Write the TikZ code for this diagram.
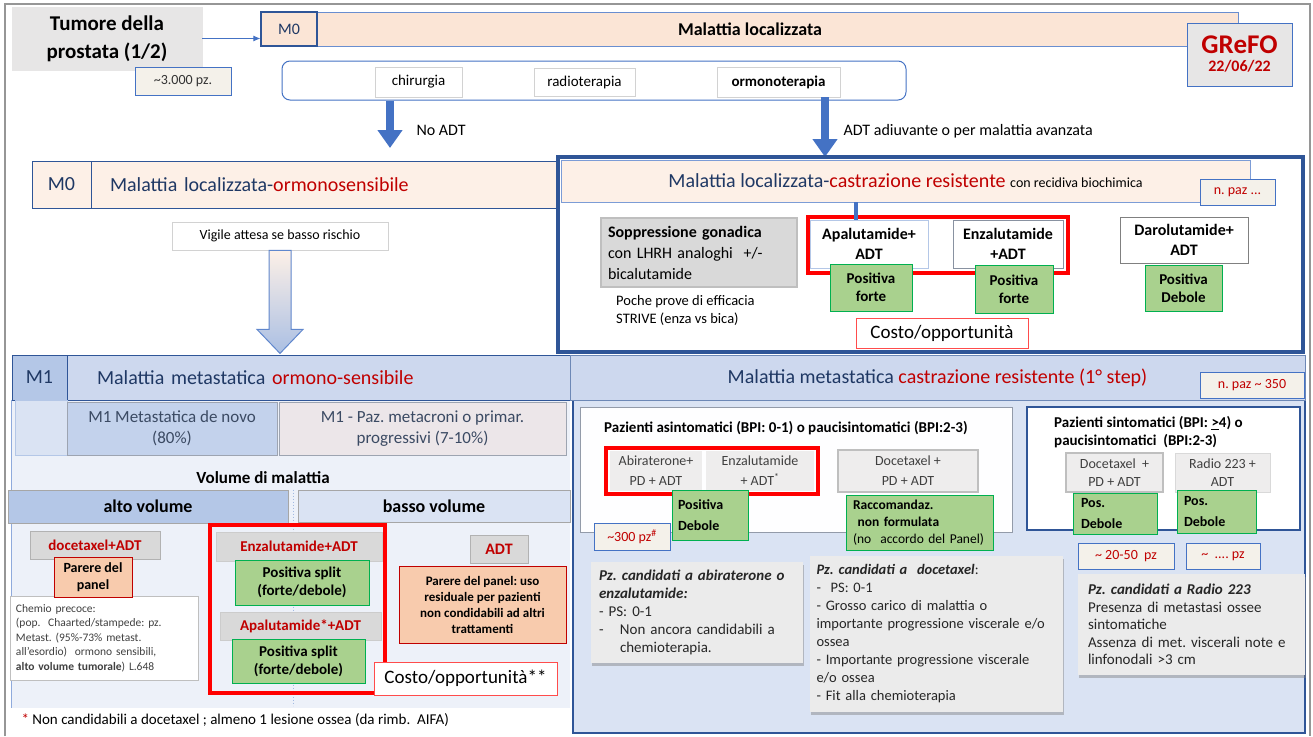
\documentclass[tikz,border=0pt]{standalone}
\usepackage{fontspec}
\setmainfont{Carlito}
\usepackage{tikz}
\usetikzlibrary{arrows.meta,positioning,shadows,calc}
\frenchspacing
\definecolor{gfblue}{RGB}{68,114,196}
\definecolor{gfnavy}{RGB}{47,85,151}
\definecolor{gfink}{RGB}{31,56,100}
\definecolor{gfred}{RGB}{192,0,0}
\definecolor{gfbright}{RGB}{255,0,0}
\definecolor{gfpeach}{RGB}{251,229,214}
\definecolor{gfpeachlt}{RGB}{253,240,231}
\definecolor{gfgray}{RGB}{231,230,230}
\definecolor{gfgraydk}{RGB}{217,217,217}
\definecolor{gfline}{RGB}{191,191,191}
\definecolor{gfgreen}{RGB}{169,209,142}
\definecolor{gfgreenln}{RGB}{0,176,80}
\definecolor{gforange}{RGB}{248,203,173}
\definecolor{gfbeige}{RGB}{244,241,234}
\definecolor{gfblu1}{RGB}{180,199,231}
\definecolor{gfblu2}{RGB}{205,216,238}
\definecolor{gfblu3}{RGB}{218,227,243}
\definecolor{gfblu4}{RGB}{237,241,249}
\definecolor{gfmauve}{RGB}{236,230,233}
\definecolor{gfslate}{RGB}{59,74,99}
\definecolor{gfframe}{RGB}{150,150,150}
\definecolor{gfarrow}{RGB}{170,191,227}
\definecolor{gfnote}{RGB}{235,235,235}
\newcommand{\fz}[2]{\fontsize{#1}{#2}\selectfont}
\tikzset{
  gbox/.style={
    draw=gfline, line width=0.8pt, align=center, inner sep=1pt,
    font=\fz{15}{18}
  },
  peach/.style={gbox, draw=gfnavy, fill=gfpeachlt},
  wbox/.style={gbox, draw=gfline!70, fill=white},
  gry/.style={gbox, draw=gray!60, line width=1pt, fill=gfgraydk, text=gfred, font=\bfseries\fz{15}{18}},
  lgry/.style={gbox, fill=gfgray!70, text=black!75, font=\fz{14}{20}},
  tag/.style={gbox, draw=gfblue, line width=1pt, fill=gfbeige, font=\fz{14}{16}, text=gfred},
  grn/.style={gbox, draw=gfgreenln, fill=gfgreen, font=\bfseries\fz{15}{18}},
  org/.style={gbox, draw=gfred, fill=gforange, font=\bfseries\fz{14}{16.5}},
  redfr/.style={draw=gfbright, line width=3.5pt, inner sep=0pt},
  note/.style={
    draw=none, fill=gfnote, align=left, inner sep=1pt, font=\fz{15}{18}, text=black!85,
    drop shadow={shadow xshift=1pt, shadow yshift=-3pt, opacity=0.45}
  },
  blkarr/.style={-{Triangle[length=18pt,width=24pt]}, draw=gfblue, line width=8pt},
  thinarr/.style={-{Latex[length=7pt,width=6pt]}, draw=gfblue, line width=0.8pt}
}
\begin{document}
\begin{tikzpicture}[x=1pt, y=-1pt]
  \useasboundingbox (0,0) rectangle (1313,736);
  \draw[gfframe, line width=1.5pt] (5,736) -- (5,4) -- (1310,4) -- (1310,736);

  % testata
  \node[gbox, draw=gfgray, fill=gfgray, font=\bfseries\fz{21}{28}, minimum width=190pt, minimum height=63pt] (title) at (107,38.5) {Tumore della\\prostata (1/2)};
  \node[tag, text=black!80, minimum width=96pt, minimum height=28pt] (npz) at (183,81) {\textasciitilde3.000 pz.};
  \node[gbox, draw=gfblue!80, fill=gfpeach, minimum width=921pt, minimum height=34pt] (m0bar) at (777.5,29) {};
  \node[gbox, draw=gfnavy, line width=1.2pt, fill=gfpeach, text=gfink, font=\fz{16}{18}, minimum width=56pt, minimum height=34pt] (m0a) at (289,29) {M0};
  \node[font=\bfseries\fz{18}{20}] (m0txt) at (750,29) {Malattia localizzata};
  \draw[thinarr] (title.east) -- (m0a.west |- title.east);
  \node[gbox, draw=gfblue, line width=1pt, fill=gfgray, text=gfred, minimum width=105pt, minimum height=63pt] (grefo) at (1239.5,54.5) {{\bfseries\fz{27}{24}GReFO}\\{\bfseries\fz{16}{18}22/06/22}};

  % trattamenti
  \node[gbox, draw=gfblue, line width=1pt, rounded corners=8pt, fill=white, minimum width=624pt, minimum height=39pt] (tratt) at (594,80.5) {};
  \node[wbox, minimum width=87pt, minimum height=30pt] (chir) at (418.5,82) {chirurgia};
  \node[wbox, minimum width=101pt, minimum height=28pt] (radio) at (584.5,82) {radioterapia};
  \node[wbox, font=\bfseries\fz{15}{18}, minimum width=123pt, minimum height=30pt] (ormo) at (778.5,82) {ormonoterapia};
  \coordinate (noadt) at (390,148);
  \coordinate (adtad) at (825,157);
  \draw[blkarr] (tratt.south -| noadt) -- (noadt);
  \draw[blkarr] (ormo.south -| adtad) -- (adtad);
  \node[anchor=west, font=\fz{16}{18}] (lnoadt) at (413,130) {No ADT};
  \node[anchor=west, font=\fz{16}{18}] (ladt) at (840,131) {ADT adiuvante o per malattia avanzata};

  % M0 ormonosensibile
  \node[peach, minimum width=467pt, minimum height=47pt, text width=429pt, align=left, font=\fz{20}{22}] (m0bar2) at (324.5,184.5) {\textcolor{gfink}{Malattia localizzata-}\textcolor{gfred}{ormonosensibile}};
  \node[peach, text=gfink, font=\fz{20}{22}, minimum width=59pt, minimum height=47pt] (m0b) at (61.5,184.5) {M0};
  \node[wbox, font=\fz{14}{16}, minimum width=216pt, minimum height=28pt] (vig) at (280,236) {Vigile attesa se basso rischio};
  \shade[top color=gfpeachlt, bottom color=gfarrow, draw=gfblue!85, line width=1pt]
    (vig.south) ++(-11,0) -- ++(0,79) -- ++(-12,0) -- ++(23,24) -- ++(23,-24) -- ++(-12,0) -- ++(0,-79) -- cycle;

  % M0 castrazione resistente
  \node[peach, draw=gfblue!70, minimum width=689pt, minimum height=42pt, font=\fz{20}{22}] (crhdr) at (905.5,181) {\textcolor{gfink}{Malattia localizzata-}\textcolor{gfred}{castrazione resistente} {\fz{14}{16}con recidiva biochimica}};
  \node[draw=gfnavy, line width=3.5pt, minimum width=745pt, minimum height=195pt, inner sep=0pt] (crfr) at (930.5,254.5) {};
  \node[tag, minimum width=75pt, minimum height=26pt] (npz1) at (1237.5,192) {n. paz ...};
  \node[gbox, draw=gfline, line width=1.2pt, fill=gfgraydk, text width=182pt, align=left, font=\fz{16}{21}, minimum width=196pt, minimum height=69pt] (sopp) at (699,252.5) {\textbf{Soppressione gonadica}\\con LHRH analoghi~ +/-\\bicalutamide};
  \node[anchor=north west, align=left, inner sep=0pt, font=\fz{14.5}{18}] (poche) at (616,295) {Poche prove di efficacia\\STRIVE (enza vs bica)};
  \node[redfr, minimum width=260pt, minimum height=56pt] (rfa) at (938,245) {};
  \node[gbox, draw=gfblu1, fill=white, font=\bfseries\fz{16}{20}, minimum width=118pt, minimum height=48pt] (apa) at (869,244) {Apalutamide+\\ADT};
  \node[gbox, draw=gfslate!60, line width=1pt, fill=white, font=\bfseries\fz{16}{20}, minimum width=110pt, minimum height=48pt] (enz) at (1008,244) {Enzalutamide\\+ADT};
  \coordinate (apatop) at ($(apa.north west)+(46,0)$);
  \draw[gfblue, line width=4pt] (apatop |- crhdr.south) -- (apatop);
  \node[grn, minimum width=82pt, minimum height=47pt] (pf1) at (871,287.5) {Positiva\\forte};
  \node[grn, minimum width=78pt, minimum height=48pt] (pf2) at (1014,289) {Positiva\\forte};
  \node[gbox, draw=gray, line width=1pt, fill=white, font=\bfseries\fz{16}{20}, minimum width=128pt, minimum height=46pt] (daro) at (1184,240) {Darolutamide+\\ADT};
  \node[grn, minimum width=77pt, minimum height=46pt] (pd3) at (1183.5,288) {Positiva\\Debole};
  \node[gbox, draw=gfbright!70, fill=white, font=\fz{19}{22}, minimum width=172pt, minimum height=30pt] (costo1) at (942,333) {Costo/opportunità};

  % M1 pannelli
  \node[fill=gfblu4, minimum width=558pt, minimum height=308pt, inner sep=0pt] (lpan) at (291,554) {};
  \draw[gfblue!60, line width=1pt] (lpan.north west) -- (lpan.south west);
  \node[draw=gfnavy, line width=1.2pt, fill=gfblu3, minimum width=732pt, minimum height=333pt, inner sep=0pt] (rpan) at (939,566.5) {};
  \node[gbox, draw=gfnavy, fill=gfblu2, minimum width=503pt, minimum height=45pt, text width=443pt, align=left, font=\fz{20}{22}] (m1hdr) at (318.5,377.5) {\textcolor{gfink}{Malattia metastatica }\textcolor{gfred}{ormono-sensibile}};
  \node[gbox, draw=gfnavy, fill=gfblu1, text=gfink, font=\fz{20}{22}, minimum width=55pt, minimum height=45pt] (m1) at (39.5,377.5) {M1};
  \node[gbox, draw=gfnavy!70, fill=gfblu2, minimum width=735pt, minimum height=45pt, font=\fz{20}{22}] (crpc) at (937.5,377.5) {\textcolor{gfink}{Malattia metastatica }\textcolor{gfred}{castrazione resistente (1° step)}};
  \node[tag, minimum width=104pt, minimum height=26pt] (npz2) at (1252,385) {n. paz \textasciitilde{} 350};

  % M1 ormono-sensibile
  \node[gbox, draw=gfblu1, fill=gfblu3, minimum width=52pt, minimum height=55pt] (m1cell) at (41,427.5) {};
  \node[gbox, draw=gfslate!50, fill=gfblu1!80, text=gfslate, font=\fz{17}{21}, minimum width=210pt, minimum height=53pt] (novo) at (172,428.5) {M1 Metastatica de novo\\(80\%)};
  \node[gbox, draw=gfslate!50, fill=gfmauve, text=gfslate, font=\fz{17}{21}, minimum width=287pt, minimum height=53pt] (meta) at (422.5,428.5) {M1 - Paz. metacroni o primar.\\progressivi (7-10\%)};
  \node[font=\bfseries\fz{17}{20}] (vol) at (263,478) {Volume di malattia};
  \node[gbox, draw=gray!70, line width=1pt, fill=gfblu1, font=\bfseries\fz{18}{20}, minimum width=280pt, minimum height=33pt] (alto) at (148,506.5) {alto volume};
  \node[gbox, draw=gray!70, line width=1pt, fill=gfblu3, font=\bfseries\fz{18}{20}, minimum width=272pt, minimum height=32pt] (basso) at (434,506) {basso volume};
  \draw[gfblue!50, dotted, line width=1pt] ($(alto.north east)!0.5!(basso.north west)$) -- ++(0,216);

  \node[gry, minimum width=130pt, minimum height=28pt] (doce) at (95,545) {docetaxel+ADT};
  \node[gbox, draw=gfline, fill=white, text width=176pt, align=left, font=\fz{11.5}{14.5}, text=black!75, minimum width=188pt, minimum height=84pt] (chemio) at (104,638) {Chemio precoce:\\(pop.~ Chaarted/stampede: pz.\\Metast. (95\%-73\% metast.\\all’esordio)~ ormono sensibili,\\\textbf{alto volume tumorale}) L.648};
  \node[org, minimum width=78pt, minimum height=40pt] (parere) at (93,577) {Parere del\\panel};

  \node[redfr, minimum width=175pt, minimum height=168pt] (rfb) at (297.5,609) {};
  \node[gry, draw=gray!40, minimum width=166pt, minimum height=29pt] (enzadt) at (299,546.5) {Enzalutamide+ADT};
  \node[grn, minimum width=134pt, minimum height=45pt] (split1) at (302,582.5) {Positiva split\\(forte/debole)};
  \node[gry, draw=gray!40, minimum width=161pt, minimum height=28pt] (apaadt) at (300.5,626) {Apalutamide*+ADT};
  \node[grn, minimum width=133pt, minimum height=44pt] (split2) at (298.5,661) {Positiva split\\(forte/debole)};
  \node[gbox, draw=gfbright!70, fill=white, font=\fz{19}{22}, minimum width=183pt, minimum height=33pt] (costo2) at (465.5,678.5) {Costo/opportunità**};
  \node[gry, font=\bfseries\fz{16}{18}, minimum width=58pt, minimum height=28pt] (adt) at (499,549) {ADT};
  \node[org, font=\bfseries\fz{13}{16}, minimum width=167pt, minimum height=77pt] (uso) at (482.5,604.5) {Parere del panel: uso\\residuale per pazienti\\non condidabili ad altri\\trattamenti};
  \node[anchor=west, font=\fz{15}{18}] (nota) at (18,720) {\textcolor{gfred}{*} Non candidabili a docetaxel ; almeno 1 lesione ossea (da rimb.~ AIFA)};

  % M1 castrazione resistente
  \node[gbox, draw=gfslate!55, line width=1pt, fill=white!96!gfblu3, minimum width=432pt, minimum height=125pt] (asint) at (796,469.5) {};
  \node[anchor=west, inner sep=0pt, font=\bfseries\fz{15}{18}] (asintt) at (604,428) {Pazienti asintomatici (BPI: 0-1) o paucisintomatici (BPI:2-3)};
  \node[redfr, minimum width=212pt, minimum height=46pt] (rfc) at (712,471) {};
  \node[lgry, draw=none, minimum width=92pt, minimum height=40pt] (abi) at (656,471) {Abiraterone+\\PD + ADT};
  \node[lgry, draw=none, minimum width=108pt, minimum height=40pt] (enz2) at (760,471) {Enzalutamide\\+ ADT\textsuperscript{*}};
  \node[grn, font=\bfseries\fz{14}{21}, align=left, text width=64pt, minimum width=76pt, minimum height=50pt] (pdeb) at (710,515) {Positiva\\Debole};
  \node[lgry, draw=gfline, line width=2pt, minimum width=140pt, minimum height=42pt] (doce1) at (908,471) {Docetaxel +\\PD + ADT};
  \node[grn, font=\fz{13.5}{17}, align=left, text width=133pt, minimum width=147pt, minimum height=55pt] (racc) at (919.5,522.5) {\textbf{Raccomandaz.}\\\textbf{\ non formulata}\\(no~ accordo del Panel)};
  \node[tag, minimum width=76pt, minimum height=27pt] (pz300) at (632,536.5) {\textasciitilde300 pz\textsuperscript{\#}};

  \node[gbox, draw=gfnavy, line width=1.5pt, fill=white, minimum width=273pt, minimum height=123pt] (sint) at (1163.5,468.5) {};
  \node[anchor=north west, align=left, inner sep=0pt, font=\bfseries\fz{15}{18}] (sintt) at (1054,416) {Pazienti sintomatici (BPI: \underline{>}4) o\\paucisintomatici~ (BPI:2-3)};
  \node[lgry, draw=gfline, line width=2pt, font=\fz{14}{18}, minimum width=97pt, minimum height=39pt] (doce2) at (1114.5,472.5) {Docetaxel~ +\\PD + ADT};
  \node[lgry, draw=gfline!60, line width=1pt, font=\fz{14}{18}, minimum width=95pt, minimum height=39pt] (ra223) at (1222.5,472.5) {Radio 223 +\\ADT};
  \node[grn, font=\bfseries\fz{14}{21}, align=left, text width=68pt, minimum width=84pt, minimum height=41pt] (posd1) at (1115,513.5) {Pos.\\Debole};
  \node[grn, font=\bfseries\fz{14}{21}, align=left, text width=65pt, minimum width=79pt, minimum height=43pt] (posd2) at (1216.5,511.5) {Pos.\\Debole};
  \node[tag, minimum width=96pt, minimum height=26pt] (pz2050) at (1126,556) {\textasciitilde{} 20-50~ pz};
  \node[tag, minimum width=74pt, minimum height=26pt] (pzdots) at (1223,556) {\textasciitilde{}~ .... pz};

  \node[note, text width=196pt, minimum width=212pt, minimum height=101pt] (nabi) at (697,612.5) {\textbf{\textit{Pz. candidati a abiraterone o}}\\\textbf{\textit{enzalutamide:}}\\- PS: 0-1\\\makebox[21pt][l]{-}Non ancora candidabili a\\\hspace*{21pt}chemioterapia.};
  \node[note, font=\fz{14.5}{18}, text width=240pt, minimum width=253pt, minimum height=156pt] (ndoce) at (936.5,634) {\textbf{\textit{Pz. candidati a~ docetaxel}}:\\-~ PS: 0-1\\- Grosso carico di malattia o\\importante progressione viscerale e/o\\ossea\\- Importante progressione viscerale\\e/o ossea\\- Fit alla chemioterapia};
  \node[note, font=\fz{15}{17.5}, text width=207pt, minimum width=227pt, minimum height=101pt] (nrad) at (1191.5,624.5) {\textbf{\textit{Pz. candidati a Radio 223}}\\Presenza di metastasi ossee\\sintomatiche\\Assenza di met. viscerali note e\\linfonodali >3 cm};
\end{tikzpicture}
\end{document}
